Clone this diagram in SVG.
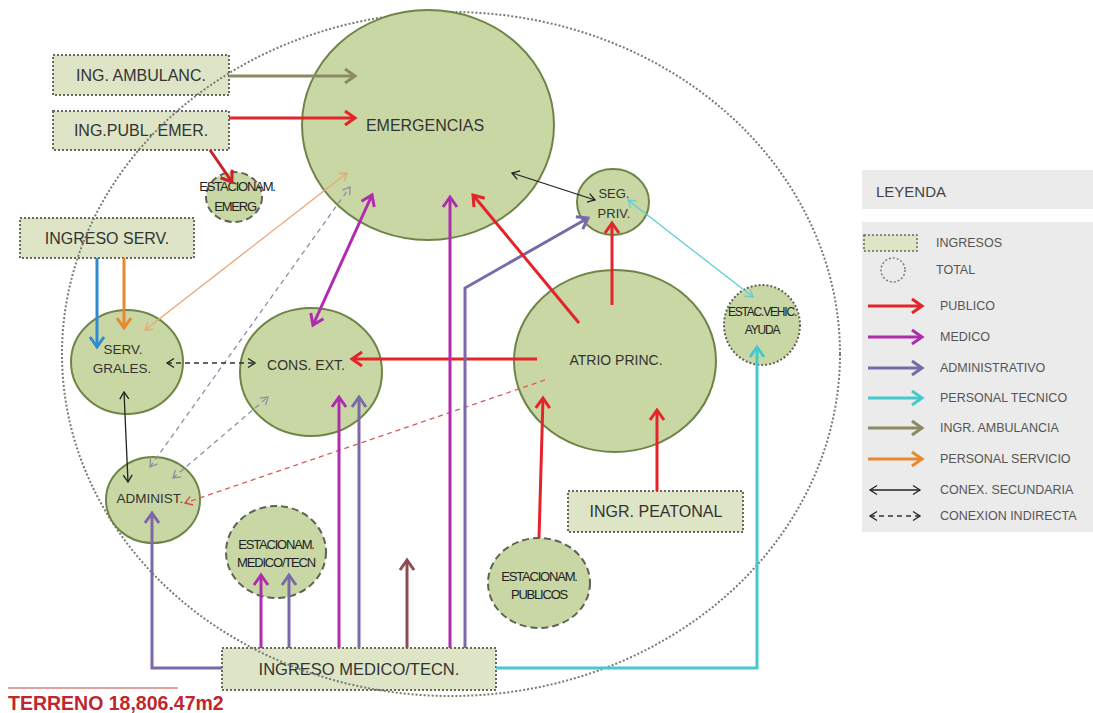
<svg xmlns="http://www.w3.org/2000/svg" width="1093" height="713" viewBox="0 0 1093 713">
<style>
text{font-family:"Liberation Sans",Arial,sans-serif;fill:#333;}
.node{fill:#c9d7a5;stroke:#6f8447;stroke-width:2;}
.dnode{fill:#c9d7a5;stroke:#5f6355;stroke-width:2;stroke-dasharray:7,4;}
.vnode{fill:#c9d7a5;stroke:#5f6355;stroke-width:2;stroke-dasharray:2,2;}
.ing{fill:#dde5c6;stroke:#666a5c;stroke-width:2;stroke-dasharray:2,2;}
.total{fill:none;stroke:#7a7a72;stroke-width:2;stroke-dasharray:2,2;}
.lbl{font-size:16px;text-anchor:middle;}
.nl{font-size:13.5px;text-anchor:middle;}
.cond{font-size:13px;text-anchor:middle;letter-spacing:-1.2px;fill:#222;}
.t{fill:none;stroke-width:3;}
.th{fill:none;stroke-width:1.3;}
.red{stroke:#e3242b;} .mag{stroke:#b02cae;} .pur{stroke:#7a69a8;} .cya{stroke:#45c9cd;}
.oli{stroke:#8b8a62;} .ora{stroke:#e8892f;} .blu{stroke:#2e8bd0;} .mar{stroke:#8e4b52;}
.blk{stroke:#222;} .gry{stroke:#8a90a6;stroke-dasharray:5,4;} .orl{stroke:#e9a574;}
.rdd{stroke:#d85a5a;stroke-dasharray:5,4;} .bkd{stroke:#333;stroke-dasharray:5,4;}
.mh path{fill:none;stroke-width:3;stroke-linejoin:miter;}
.ms path{fill:none;stroke-width:1.3;}
.leg{font-size:12.5px;fill:#555;}
</style>
<defs>
<marker id="mR" class="mh" markerUnits="userSpaceOnUse" viewBox="-14 -10 18 20" markerWidth="18" markerHeight="20" refX="0" refY="0" orient="auto-start-reverse"><path d="M-10,-7 L0,0 L-10,7" stroke="#e3242b"/></marker>
<marker id="mDR" class="mh" markerUnits="userSpaceOnUse" viewBox="-14 -10 18 20" markerWidth="18" markerHeight="20" refX="0" refY="0" orient="auto-start-reverse"><path d="M-10,-7 L0,0 L-10,7" stroke="#c8232a"/></marker>
<marker id="mM" class="mh" markerUnits="userSpaceOnUse" viewBox="-14 -10 18 20" markerWidth="18" markerHeight="20" refX="0" refY="0" orient="auto-start-reverse"><path d="M-10,-7 L0,0 L-10,7" stroke="#b02cae"/></marker>
<marker id="mP" class="mh" markerUnits="userSpaceOnUse" viewBox="-14 -10 18 20" markerWidth="18" markerHeight="20" refX="0" refY="0" orient="auto-start-reverse"><path d="M-10,-7 L0,0 L-10,7" stroke="#7a69a8"/></marker>
<marker id="mC" class="mh" markerUnits="userSpaceOnUse" viewBox="-14 -10 18 20" markerWidth="18" markerHeight="20" refX="0" refY="0" orient="auto-start-reverse"><path d="M-10,-7 L0,0 L-10,7" stroke="#45c9cd"/></marker>
<marker id="mO" class="mh" markerUnits="userSpaceOnUse" viewBox="-14 -10 18 20" markerWidth="18" markerHeight="20" refX="0" refY="0" orient="auto-start-reverse"><path d="M-10,-7 L0,0 L-10,7" stroke="#8b8a62"/></marker>
<marker id="mOr" class="mh" markerUnits="userSpaceOnUse" viewBox="-14 -10 18 20" markerWidth="18" markerHeight="20" refX="0" refY="0" orient="auto-start-reverse"><path d="M-10,-7 L0,0 L-10,7" stroke="#e8892f"/></marker>
<marker id="mB" class="mh" markerUnits="userSpaceOnUse" viewBox="-14 -10 18 20" markerWidth="18" markerHeight="20" refX="0" refY="0" orient="auto-start-reverse"><path d="M-10,-7 L0,0 L-10,7" stroke="#2e8bd0"/></marker>
<marker id="mMa" class="mh" markerUnits="userSpaceOnUse" viewBox="-14 -10 18 20" markerWidth="18" markerHeight="20" refX="0" refY="0" orient="auto-start-reverse"><path d="M-10,-7 L0,0 L-10,7" stroke="#8e4b52"/></marker>
<marker id="sK" class="ms" markerUnits="userSpaceOnUse" viewBox="-10 -7 12 14" markerWidth="12" markerHeight="14" refX="0" refY="0" orient="auto-start-reverse"><path d="M-7,-4.5 L0,0 L-7,4.5" stroke="#222"/></marker>
<marker id="sG" class="ms" markerUnits="userSpaceOnUse" viewBox="-10 -7 12 14" markerWidth="12" markerHeight="14" refX="0" refY="0" orient="auto-start-reverse"><path d="M-7,-4.5 L0,0 L-7,4.5" stroke="#8a90a6"/></marker>
<marker id="sO" class="ms" markerUnits="userSpaceOnUse" viewBox="-10 -7 12 14" markerWidth="12" markerHeight="14" refX="0" refY="0" orient="auto-start-reverse"><path d="M-7,-4.5 L0,0 L-7,4.5" stroke="#e9a574"/></marker>
<marker id="sR" class="ms" markerUnits="userSpaceOnUse" viewBox="-10 -7 12 14" markerWidth="12" markerHeight="14" refX="0" refY="0" orient="auto-start-reverse"><path d="M-7,-4.5 L0,0 L-7,4.5" stroke="#d84a4a"/></marker>
<marker id="sC" class="ms" markerUnits="userSpaceOnUse" viewBox="-10 -7 12 14" markerWidth="12" markerHeight="14" refX="0" refY="0" orient="auto-start-reverse"><path d="M-7,-4.5 L0,0 L-7,4.5" stroke="#5fcfd3"/></marker>
</defs>
<rect width="1093" height="713" fill="#fff"/>

<g id="ing-ambulanc"><rect class="ing" x="53" y="55" width="176" height="40"/><text class="lbl" x="141" y="81">ING. AMBULANC.</text></g>
<g id="ing-publ-emer"><rect class="ing" x="53" y="111" width="176" height="39"/><text class="lbl" x="141" y="136">ING.PUBL. EMER.</text></g>
<g id="ingreso-serv"><rect class="ing" x="20" y="218" width="174" height="40"/><text class="lbl" x="107" y="244">INGRESO SERV.</text></g>
<g id="ingr-peatonal"><rect class="ing" x="568" y="491" width="175" height="41"/><text class="lbl" x="656" y="517">INGR. PEATONAL</text></g>
<g id="ingreso-medico"><rect class="ing" x="222" y="648" width="274" height="42"/><text class="lbl" x="359" y="675" style="font-size:16.5px">INGRESO MEDICO/TECN.</text></g>

<g id="total"><ellipse class="total" cx="451" cy="354" rx="389" ry="342"/></g>

<g id="emergencias"><ellipse class="node" cx="428" cy="125" rx="126" ry="115"/><text class="lbl" x="425" y="131">EMERGENCIAS</text></g>
<g id="seg-priv"><ellipse class="node" cx="613" cy="202" rx="36" ry="33"/><text class="nl" x="614" y="198" style="font-size:13px">SEG.</text><text class="nl" x="614" y="218" style="font-size:13px">PRIV.</text></g>
<g id="atrio"><ellipse class="node" cx="615" cy="361" rx="101" ry="91"/><text class="nl" x="616" y="365" style="font-size:14px">ATRIO PRINC.</text></g>
<g id="estac-vehic"><ellipse class="vnode" cx="762" cy="325" rx="38" ry="40"/><text class="cond" x="762" y="316" style="font-size:12px">ESTAC.VEHIC.</text><text class="cond" x="762" y="334" style="font-size:12px">AYUDA</text></g>
<g id="cons-ext"><ellipse class="node" cx="311" cy="372" rx="71" ry="64"/><text class="nl" x="306" y="370" style="font-size:14px">CONS. EXT.</text></g>
<g id="serv-grales"><ellipse class="node" cx="127" cy="362" rx="56" ry="52"/><text class="nl" x="123" y="354">SERV.</text><text class="nl" x="122" y="373">GRALES.</text></g>
<g id="administ"><ellipse class="node" cx="153" cy="500" rx="47" ry="43"/><text class="nl" x="150" y="503">ADMINIST.</text></g>
<g id="estac-emerg"><ellipse class="dnode" cx="234" cy="197" rx="28" ry="25"/><text class="cond" x="237" y="191">ESTACIONAM.</text><text class="cond" x="235" y="211">EMERG</text></g>
<g id="estac-medico"><ellipse class="dnode" cx="276" cy="552" rx="50" ry="46"/><text class="cond" x="276" y="549">ESTACIONAM.</text><text class="cond" x="276" y="567">MEDICO/TECN</text></g>
<g id="estac-publicos"><ellipse class="dnode" cx="539" cy="583" rx="51" ry="45"/><text class="cond" x="539" y="581">ESTACIONAM.</text><text class="cond" x="539" y="599">PUBLICOS</text></g>

<g id="connectors">
<line class="t oli" x1="229" y1="76" x2="355" y2="76" marker-end="url(#mO)"/>
<line class="t red" x1="229" y1="118" x2="355" y2="118" marker-end="url(#mR)"/>
<line class="t" style="stroke:#c8232a" x1="210" y1="150" x2="232" y2="182" marker-end="url(#mDR)"/>
<line class="t blu" x1="97" y1="258" x2="97" y2="347" marker-end="url(#mB)"/>
<line class="t ora" x1="124" y1="258" x2="124" y2="328" marker-end="url(#mOr)"/>
<line class="th orl" x1="145" y1="330" x2="347" y2="173" marker-start="url(#sO)" marker-end="url(#sO)"/>
<line class="th gry" x1="150" y1="467" x2="350" y2="187" marker-start="url(#sG)" marker-end="url(#sG)"/>
<line class="th gry" x1="173" y1="478" x2="268" y2="397" marker-start="url(#sG)" marker-end="url(#sG)"/>
<line class="th rdd" x1="545" y1="380" x2="185" y2="503" marker-end="url(#sR)"/>
<line class="th bkd" x1="167" y1="363" x2="255" y2="363" marker-start="url(#sK)" marker-end="url(#sK)"/>
<line class="th blk" x1="124" y1="392" x2="128" y2="482" marker-start="url(#sK)" marker-end="url(#sK)"/>
<line class="t mag" x1="372" y1="195" x2="313" y2="325" marker-start="url(#mM)" marker-end="url(#mM)"/>
<line class="t red" x1="537" y1="359" x2="352" y2="359" marker-end="url(#mR)"/>
<line class="t mag" x1="339" y1="648" x2="339" y2="397" marker-end="url(#mM)"/>
<line class="t pur" x1="359" y1="648" x2="359" y2="397" marker-end="url(#mP)"/>
<line class="t mag" x1="450" y1="648" x2="450" y2="197" marker-end="url(#mM)"/>
<polyline class="t pur" points="465,648 465,288 588,218" marker-end="url(#mP)"/>
<line class="t red" x1="579" y1="323" x2="473" y2="195" marker-end="url(#mR)"/>
<line class="t red" x1="612" y1="305" x2="612" y2="223" marker-end="url(#mR)"/>
<line class="th blk" x1="512" y1="173" x2="595" y2="200" marker-start="url(#sK)" marker-end="url(#sK)"/>
<line class="th" style="stroke:#5fcfd3" x1="628" y1="200" x2="753" y2="297" marker-start="url(#sC)" marker-end="url(#sC)"/>
<polyline class="t cya" points="496,668 757,668 757,347" marker-end="url(#mC)"/>
<line class="t red" x1="539" y1="538" x2="543" y2="398" marker-end="url(#mR)"/>
<line class="t red" x1="657" y1="491" x2="657" y2="410" marker-end="url(#mR)"/>
<polyline class="t pur" points="222,668 152,668 152,513" marker-end="url(#mP)"/>
<line class="t mag" x1="261" y1="648" x2="261" y2="575" marker-end="url(#mM)"/>
<line class="t pur" x1="289" y1="648" x2="289" y2="575" marker-end="url(#mP)"/>
<line class="t mar" x1="407" y1="648" x2="407" y2="560" marker-end="url(#mMa)"/>
</g>

<g id="terreno">
<line x1="8" y1="688" x2="178" y2="688" stroke="#b44" stroke-width="1"/>
<text x="8" y="710" style="font-size:19.5px;font-weight:bold;fill:#c0262d">TERRENO 18,806.47m2</text>
</g>

<g id="legend">
<rect x="862" y="170" width="231" height="39" fill="#ebebeb"/>
<text x="876" y="197" style="font-size:15px;fill:#444">LEYENDA</text>
<rect x="862" y="222" width="231" height="310" fill="#ebebeb"/>
<rect class="ing" x="864" y="235" width="53" height="16" style="stroke-width:1.5"/>
<text class="leg" x="936" y="247">INGRESOS</text>
<circle cx="893" cy="270" r="12" fill="none" stroke="#777" stroke-width="1.5" stroke-dasharray="2,2"/>
<text class="leg" x="936" y="274">TOTAL</text>
<line class="t red" x1="868" y1="306" x2="922" y2="306" marker-end="url(#mR)"/>
<text class="leg" x="940" y="310">PUBLICO</text>
<line class="t mag" x1="868" y1="337" x2="922" y2="337" marker-end="url(#mM)"/>
<text class="leg" x="940" y="341">MEDICO</text>
<line class="t pur" x1="868" y1="368" x2="922" y2="368" marker-end="url(#mP)"/>
<text class="leg" x="940" y="372">ADMINISTRATIVO</text>
<line class="t cya" x1="868" y1="398" x2="922" y2="398" marker-end="url(#mC)"/>
<text class="leg" x="940" y="402">PERSONAL TECNICO</text>
<line class="t oli" x1="868" y1="428" x2="922" y2="428" marker-end="url(#mO)"/>
<text class="leg" x="940" y="432">INGR. AMBULANCIA</text>
<line class="t ora" x1="868" y1="459" x2="922" y2="459" marker-end="url(#mOr)"/>
<text class="leg" x="940" y="463">PERSONAL SERVICIO</text>
<line class="th blk" x1="870" y1="490" x2="920" y2="490" marker-start="url(#sK)" marker-end="url(#sK)"/>
<text class="leg" x="940" y="494">CONEX. SECUNDARIA</text>
<line class="th bkd" x1="870" y1="516" x2="920" y2="516" marker-start="url(#sK)" marker-end="url(#sK)"/>
<text class="leg" x="940" y="520">CONEXION INDIRECTA</text>
</g>
</svg>
